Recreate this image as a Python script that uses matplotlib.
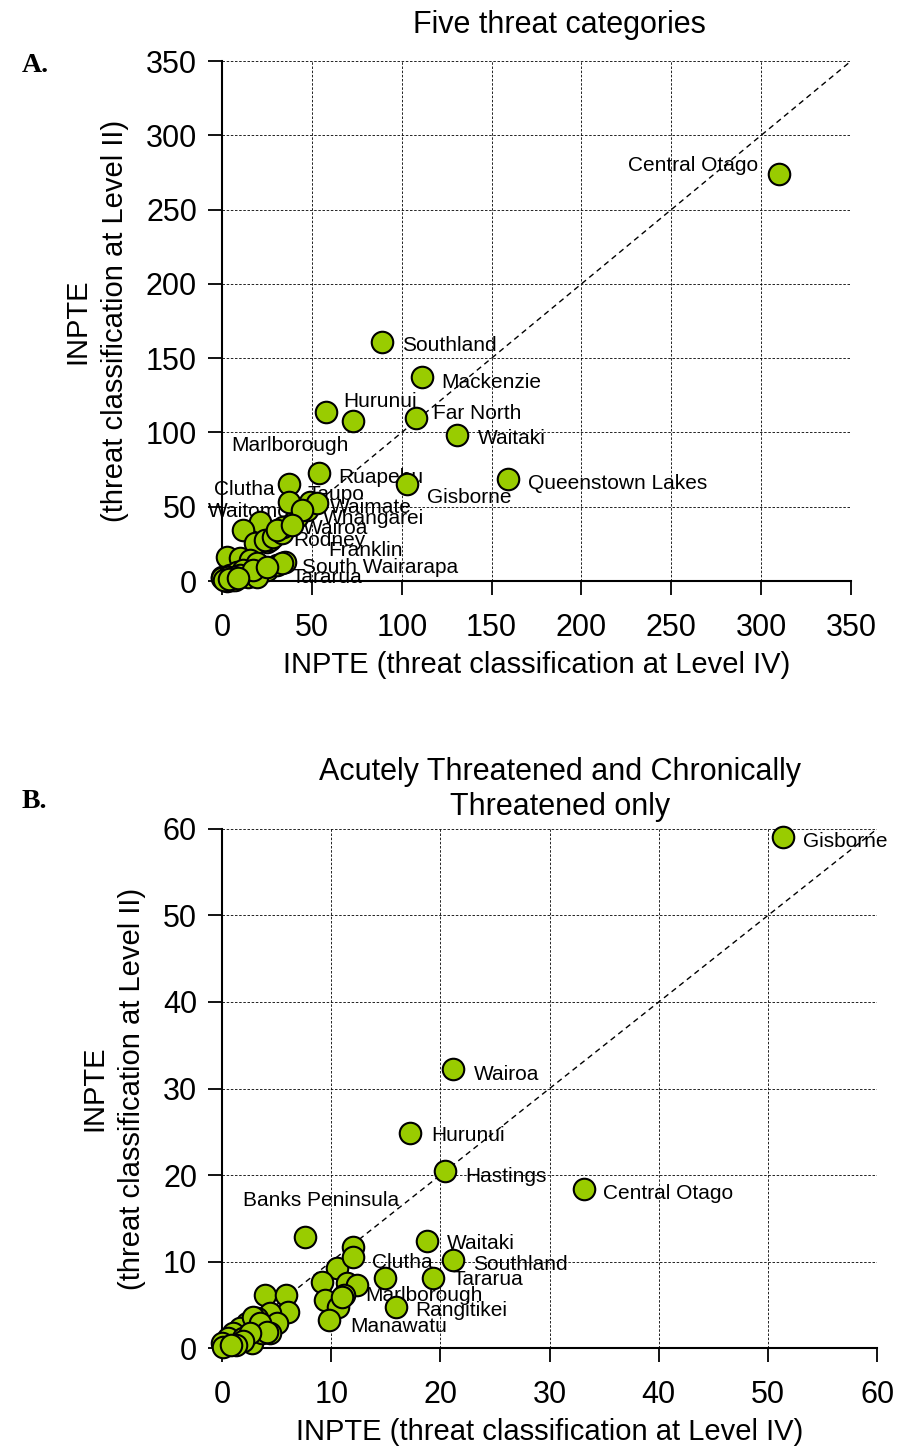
import matplotlib
matplotlib.use('Agg')
import matplotlib.pyplot as plt

plt.rcParams['font.family'] = ['Liberation Sans', 'DejaVu Sans']

# Panel A: five threat categories (x = Level IV, y = Level II)
a_names = ['Central Otago', 'Southland', 'Mackenzie', 'Hurunui', 'Marlborough',
           'Far North', 'Waitaki', 'Queenstown Lakes', 'Gisborne', 'Ruapehu',
           'Clutha', 'Taupo', 'Waitomo', 'Waimate', 'Whangarei', 'Wairoa',
           'Rodney', 'Franklin', 'South Wairarapa', 'Tararua']
a_lab_x = [310, 89, 111, 58, 73, 108, 131, 159, 103, 54,
           37, 37, 49, 53, 44.5, 34, 30.6, 39, 33.4, 25]
a_lab_y = [274, 161, 137, 114, 108, 110, 98, 69, 65, 73,
           65, 53, 53, 52.5, 47.8, 36.3, 34.3, 37.7, 12.1, 9.4]
a_other_x = [21.1, 11.7, 25, 18.4, 2.8, 11.7, 0, 26.7, 10, 15.6, 19.5, 25,
             30.6, 35, 0, 4.5, 8.3, 11.7, 14.5, 19.5, 5.6, 2.8, 10, 17.3,
             24, 28.4, 33.4, 41.7, 47.3, 1.5, 3.5, 6.5, 7, 1, 4, 9]
a_other_y = [39.7, 34.3, 26.2, 25.6, 16.2, 9.4, 2.7, 27.6, 15.5, 14.1, 12.1, 7.4,
             10.8, 12.8, 2, 4, 6.1, 7.4, 2.7, 2.7, 0.7, 0, 4, 7.4,
             27.6, 29.6, 32.3, 43, 47.8, 1, 2.5, 3, 1, 0.5, 1.5, 2]

# Panel B: Acutely + Chronically Threatened only
b_names = ['Gisborne', 'Wairoa', 'Hurunui', 'Hastings', 'Central Otago',
           'Banks Peninsula', 'Waitaki', 'Southland', 'Clutha', 'Tararua',
           'Marlborough', 'Rangitikei', 'Manawatu']
b_lab_x = [51.4, 21.2, 17.2, 20.4, 33.2, 7.6, 18.8, 21.2, 12, 19.3, 11.0, 15.9, 9.8]
b_lab_y = [59.1, 32.3, 24.9, 20.5, 18.4, 12.8, 12.4, 10.2, 10.5, 8.1, 5.9, 4.7, 3.2]
b_other_x = [12, 14.9, 10.5, 9.2, 11.4, 12.4, 9.4, 10.6, 11.2, 3.9, 5.9, 6.0,
             4.4, 5.0, 3.2, 2.3, 1.6, 1.0, 0.5, 0, 2.7, 3.7, 4.4, 1.9, 0.1,
             2.8, 3.5, 4.1, 2.6, 1.9, 1.3, 0.8]
b_other_y = [11.7, 8.1, 9.2, 7.6, 7.5, 7.3, 5.5, 4.7, 6.1, 6.1, 6.1, 4.2,
             4.0, 2.9, 3.5, 2.9, 2.3, 1.7, 1.2, 0.6, 0.6, 1.7, 1.7, 1.2, 0.1,
             3.6, 2.9, 1.9, 1.7, 0.8, 0.4, 0.3]

# label offsets in pixels (dx right, dy down) and alignment
a_offsets = [(-21, -8, 'right'), (20, 4, 'left'), (20, 5, 'left'), (17, -10, 'left'),
             (-122, 25, 'left'), (17, -4, 'left'), (20, 3, 'left'), (20, 5, 'left'),
             (20, 13, 'left'), (19, 5, 'left'), (-14, 5, 'right'), (19, -8, 'left'),
             (-20, 9, 'right'), (13, 4, 'left'), (21, 8, 'left'), (20, 1, 'left'),
             (16, 10, 'left'), (36, 25, 'left'), (20, 4, 'left'), (25, 10, 'left')]
b_offsets = [(20, 5, 'left'), (20, 6, 'left'), (21, 3, 'left'), (20, 6, 'left'),
             (19, 5, 'left'), (-62, -37, 'left'), (20, 3, 'left'), (20, 5, 'left'),
             (19, 5, 'left'), (20, 2, 'left'), (23, -2, 'left'), (20, 3, 'left'),
             (21, 6, 'left')]

a_ticks = [0, 50, 100, 150, 200, 250, 300, 350]
b_ticks = [0, 10, 20, 30, 40, 50, 60]

PX = 0.72  # points per pixel at dpi 100


def draw_panel(ax, names, lx, ly, ox, oy, offsets, ticks, title, title_x, title_pad):
    lim = ticks[-1]
    ax.set_xlim(0, lim)
    ax.set_ylim(0, lim)
    ax.set_xticks(ticks)
    ax.set_yticks(ticks)
    ax.grid(True, color='black', linestyle=(0, (3, 2)), linewidth=0.6)
    ax.set_axisbelow(True)
    for s in ['top', 'right']:
        ax.spines[s].set_visible(False)
    for s in ['left', 'bottom']:
        ax.spines[s].set_linewidth(1.5)
    ax.tick_params(direction='out', length=10, width=1.3, labelsize=22, pad=8)
    ax.tick_params(axis='x', pad=13)
    ax.plot([0, lim], [0, lim], color='black', linestyle=(0, (4, 3)),
            linewidth=1.0, zorder=2)

    ax.scatter(ox + lx, oy + ly, s=240, c='#99CC00', edgecolors='black',
               linewidths=1.5, zorder=4, clip_on=False)
    for name, x, y, (dx, dy, ha) in zip(names, lx, ly, offsets):
        ax.annotate(name, (x, y), xytext=(dx * PX, -dy * PX), textcoords='offset points',
                    ha=ha, va='center', fontsize=15, zorder=3)

    ax.set_xlabel('INPTE (threat classification at Level IV)', fontsize=21, labelpad=6)
    ax.set_ylabel('INPTE\n(threat classification at Level II)', fontsize=21,
                  labelpad=12, linespacing=1.45)
    ax.set_title(title, fontsize=22, x=title_x, pad=title_pad)


def main():
    fig = plt.figure(figsize=(8.99, 14.5), dpi=100)

    ax1 = fig.add_axes([0.247, 0.5993, 0.6996, 0.3586])
    draw_panel(ax1, a_names, a_lab_x, a_lab_y, a_other_x, a_other_y, a_offsets,
               a_ticks, 'Five threat categories', 0.537, 20)

    ax2 = fig.add_axes([0.247, 0.0703, 0.7286, 0.358])
    draw_panel(ax2, b_names, b_lab_x, b_lab_y, b_other_x, b_other_y, b_offsets,
               b_ticks, 'Acutely Threatened and Chronically\nThreatened only', 0.516, 10)

    fig.text(22 / 899, 1 - 66 / 1450, 'A.', fontsize=20, fontweight='bold',
             family='Liberation Serif', va='center')
    fig.text(22 / 899, 1 - 801 / 1450, 'B.', fontsize=20, fontweight='bold',
             family='Liberation Serif', va='center')

    fig.savefig('out.png', dpi=100)


if __name__ == '__main__':
    main()
